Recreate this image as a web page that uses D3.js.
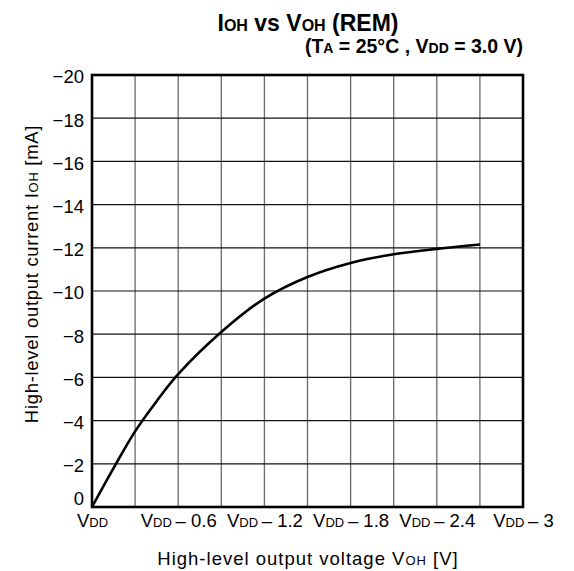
<!DOCTYPE html>
<html>
<head>
<meta charset="utf-8">
<script src="https://cdn.jsdelivr.net/npm/d3@7"></script>
<style>
  body { margin: 0; background: #fff; }
  svg text { font-family: "Liberation Sans", Arial, sans-serif; fill: #000; }
</style>
</head>
<body>
<div class="chart"></div>
<script>
// voltage drop from VDD [V] and output current [mA]
const vDrop = [0, 0.15, 0.3, 0.45, 0.6, 0.9, 1.2, 1.5, 1.8, 2.1, 2.4, 2.7]
const iOH = [0, -1.8, -3.5, -4.9, -6.15, -8.1, -9.65, -10.65, -11.3, -11.7, -11.95, -12.15]

const xGridVals = [0, 0.3, 0.6, 0.9, 1.2, 1.5, 1.8, 2.1, 2.4, 2.7, 3.0]
const xLabelVals = [0, 0.6, 1.2, 1.8, 2.4, 3]
const xLabelNums = ["", "0.6", "1.2", "1.8", "2.4", "3"]
const yTickVals = [0, -2, -4, -6, -8, -10, -12, -14, -16, -18, -20]

const width = 574
const height = 571
const margin = { top: 75, right: 51, bottom: 64, left: 92 }
const fontSize = 18.5
const subSize = 13

const x = d3.scaleLinear()
    .domain([0, 3])
    .range([margin.left, width - margin.right])
const y = d3.scaleLinear()
    .domain([0, -20])
    .range([height - margin.bottom, margin.top])

const svg = d3.select(".chart")
    .append("svg")
    .attr("width", width)
    .attr("height", height)

// grid
svg.append("g")
    .selectAll("line")
    .data(xGridVals)
    .join("line")
    .attr("x1", d => x(d)).attr("x2", d => x(d))
    .attr("y1", y(0)).attr("y2", y(-20))
    .attr("stroke", "#6a6a6a")
    .attr("stroke-width", 1.3)

svg.append("g")
    .selectAll("line")
    .data(yTickVals)
    .join("line")
    .attr("x1", x(0)).attr("x2", x(3))
    .attr("y1", d => y(d)).attr("y2", d => y(d))
    .attr("stroke", "#111")
    .attr("stroke-width", 1.2)

// y axis labels
const yAxis = d3.axisLeft(y)
    .tickValues(yTickVals)
    .tickSize(0)
    .tickPadding(8)
    .tickFormat(d => d === 0 ? "0" : "\u2212" + Math.abs(d))

svg.append("g")
    .attr("transform", `translate(${margin.left}, 0)`)
    .call(yAxis)
    .call(g => g.select(".domain").remove())
    .selectAll("text")
    .attr("font-size", fontSize)
    .attr("font-family", "Liberation Sans, Arial, sans-serif")
    .attr("dy", d => d === 0 ? "-0.12em" : "0.43em")

// x axis labels
const xAxis = d3.axisBottom(x)
    .tickValues(xLabelVals)
    .tickSize(0)
    .tickPadding(7)
    .tickFormat("")

svg.append("g")
    .attr("transform", `translate(0, ${height - margin.bottom})`)
    .call(xAxis)
    .call(g => g.select(".domain").remove())
    .selectAll("text")
    .attr("font-size", fontSize)
    .attr("font-family", "Liberation Sans, Arial, sans-serif")
    .each(function (d, i) {
        const t = d3.select(this)
        t.append("tspan").text("V")
        t.append("tspan").attr("font-size", subSize).text("DD")
        if (xLabelNums[i] !== "") t.append("tspan").text("\u2009\u2013 " + xLabelNums[i])
    })

// curve
const line = d3.line()
    .x((d, i) => x(vDrop[i]))
    .y(d => y(d))
    .curve(d3.curveCatmullRom.alpha(0.5))

svg.append("path")
    .datum(iOH)
    .attr("fill", "none")
    .attr("stroke", "#000")
    .attr("stroke-width", 2.6)
    .attr("stroke-linejoin", "round")
    .attr("d", line)

// frame
svg.append("rect")
    .attr("x", x(0)).attr("y", y(-20))
    .attr("width", x(3) - x(0))
    .attr("height", y(0) - y(-20))
    .attr("fill", "none")
    .attr("stroke", "#000")
    .attr("stroke-width", 2.6)

// titles
const t1 = svg.append("text")
    .attr("x", 308).attr("y", 31)
    .attr("text-anchor", "middle")
    .attr("font-size", 23)
    .attr("font-weight", "bold")
t1.append("tspan").text("I")
t1.append("tspan").attr("font-size", 16).text("OH")
t1.append("tspan").text(" vs V")
t1.append("tspan").attr("font-size", 16).text("OH")
t1.append("tspan").text(" (REM)")

const t2 = svg.append("text")
    .attr("x", width - margin.right).attr("y", 53)
    .attr("text-anchor", "end")
    .attr("font-size", 19.5)
    .attr("font-weight", "bold")
t2.append("tspan").text("(T")
t2.append("tspan").attr("font-size", 14).text("A")
t2.append("tspan").text(" = 25\u00B0C , V")
t2.append("tspan").attr("font-size", 14).text("DD")
t2.append("tspan").text(" = 3.0 V)")

const xt = svg.append("text")
    .attr("x", 308).attr("y", 565)
    .attr("text-anchor", "middle")
    .attr("font-size", fontSize)
    .attr("letter-spacing", 1)
xt.append("tspan").text("High-level output voltage V")
xt.append("tspan").attr("font-size", subSize).text("OH")
xt.append("tspan").text(" [V]")

const yt = svg.append("text")
    .attr("transform", `translate(${38}, ${274})rotate(-90)`)
    .attr("text-anchor", "middle")
    .attr("font-size", fontSize)
    .attr("letter-spacing", 0.7)
yt.append("tspan").text("High-level output current I")
yt.append("tspan").attr("font-size", subSize).text("OH")
yt.append("tspan").text(" [mA]")
</script>
</body>
</html>
